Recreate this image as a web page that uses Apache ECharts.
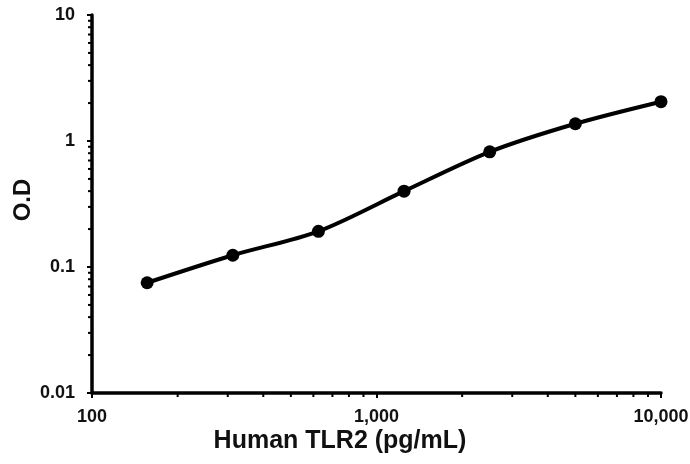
<!DOCTYPE html>
<html>
<head>
<meta charset="utf-8">
<script src="https://cdn.jsdelivr.net/npm/echarts@6/dist/echarts.min.js"></script>
<style>
    html, body { margin: 0; padding: 0; background: #fff; }
    #chart { width: 690px; height: 464px; }
</style>
</head>
<body>
<div id="chart"></div>
<script>
    // 浓度 (pg/mL) 和 吸光度
    var concentrations = [156.25, 312.5, 625, 1250, 2500, 5000, 10000];
    var odValues = [0.075, 0.124, 0.192, 0.40, 0.82, 1.37, 2.05];
    // 次刻度
    var xMinorTicks = [200, 300, 400, 500, 600, 700, 800, 900, 2000, 3000, 4000, 5000, 6000, 7000, 8000, 9000];
    var yMinorTicks = [0.02, 0.03, 0.04, 0.05, 0.06, 0.07, 0.08, 0.09, 0.2, 0.3, 0.4, 0.5, 0.6, 0.7, 0.8, 0.9, 2, 3, 4, 5, 6, 7, 8, 9];

    var labelFont = { color: '#111', fontFamily: 'Liberation Sans, Arial', fontWeight: 'bold', fontSize: 18 };

    function fmtX(v) {
        return String(Math.round(v)).replace(/\B(?=(\d{3})+(?!\d))/g, ',');
    }

    var myChart = echarts.init(document.getElementById('chart'));
    myChart.setOption({
        animation: false,
        grid: { left: 92, right: 29, top: 15, bottom: 71, outerBoundsMode: 'none', containLabel: false },
        xAxis: {
            type: 'log',
            min: 100,
            max: 10000,
            logBase: 10,
            name: 'Human TLR2 (pg/mL)',
            nameLocation: 'middle',
            nameGap: 36,
            nameMoveOverlap: false,
            nameTextStyle: {
                color: '#111', fontFamily: 'Liberation Sans, Arial', fontWeight: 'bold', fontSize: 25,
                padding: [0, 73, 0, 0]
            },
            axisLine: { lineStyle: { color: '#000', width: 3.5 } },
            axisTick: { show: true, length: 5, lineStyle: { color: '#000', width: 2 } },
            axisLabel: Object.assign({ margin: 15, formatter: fmtX }, labelFont),
            splitLine: { show: false }
        },
        yAxis: {
            type: 'log',
            min: 0.01,
            max: 10,
            logBase: 10,
            name: 'O.D',
            nameLocation: 'middle',
            nameGap: 57,
            nameMoveOverlap: false,
            nameTextStyle: {
                color: '#111', fontFamily: 'Liberation Sans, Arial', fontWeight: 'bold', fontSize: 24,
                padding: [0, 0, 0, 8]
            },
            axisLine: { show: true, lineStyle: { color: '#000', width: 3.5 } },
            axisTick: { show: true, length: 5, lineStyle: { color: '#000', width: 2 } },
            axisLabel: Object.assign({ margin: 17, formatter: function (v) { return String(v); } }, labelFont),
            splitLine: { show: false }
        },
        series: [
            {
                type: 'line',
                data: concentrations.map(function (c, i) { return [c, odValues[i]]; }),
                smooth: 0.3,
                symbol: 'circle',
                symbolSize: 13,
                lineStyle: { color: '#000', width: 4 },
                itemStyle: { color: '#000' }
            },
            {
                // x轴次刻度
                type: 'custom',
                clip: false,
                silent: true,
                data: xMinorTicks.map(function (v) { return [v, 0.01]; }),
                renderItem: function (params, api) {
                    var p = api.coord([api.value(0), api.value(1)]);
                    return {
                        type: 'line',
                        shape: { x1: p[0], y1: p[1], x2: p[0], y2: p[1] + 4 },
                        style: { stroke: '#000', lineWidth: 2 }
                    };
                }
            },
            {
                // y轴次刻度
                type: 'custom',
                clip: false,
                silent: true,
                data: yMinorTicks.map(function (v) { return [100, v]; }),
                renderItem: function (params, api) {
                    var p = api.coord([api.value(0), api.value(1)]);
                    return {
                        type: 'line',
                        shape: { x1: p[0] - 4, y1: p[1], x2: p[0], y2: p[1] },
                        style: { stroke: '#000', lineWidth: 2 }
                    };
                }
            }
        ]
    });
</script>
</body>
</html>
